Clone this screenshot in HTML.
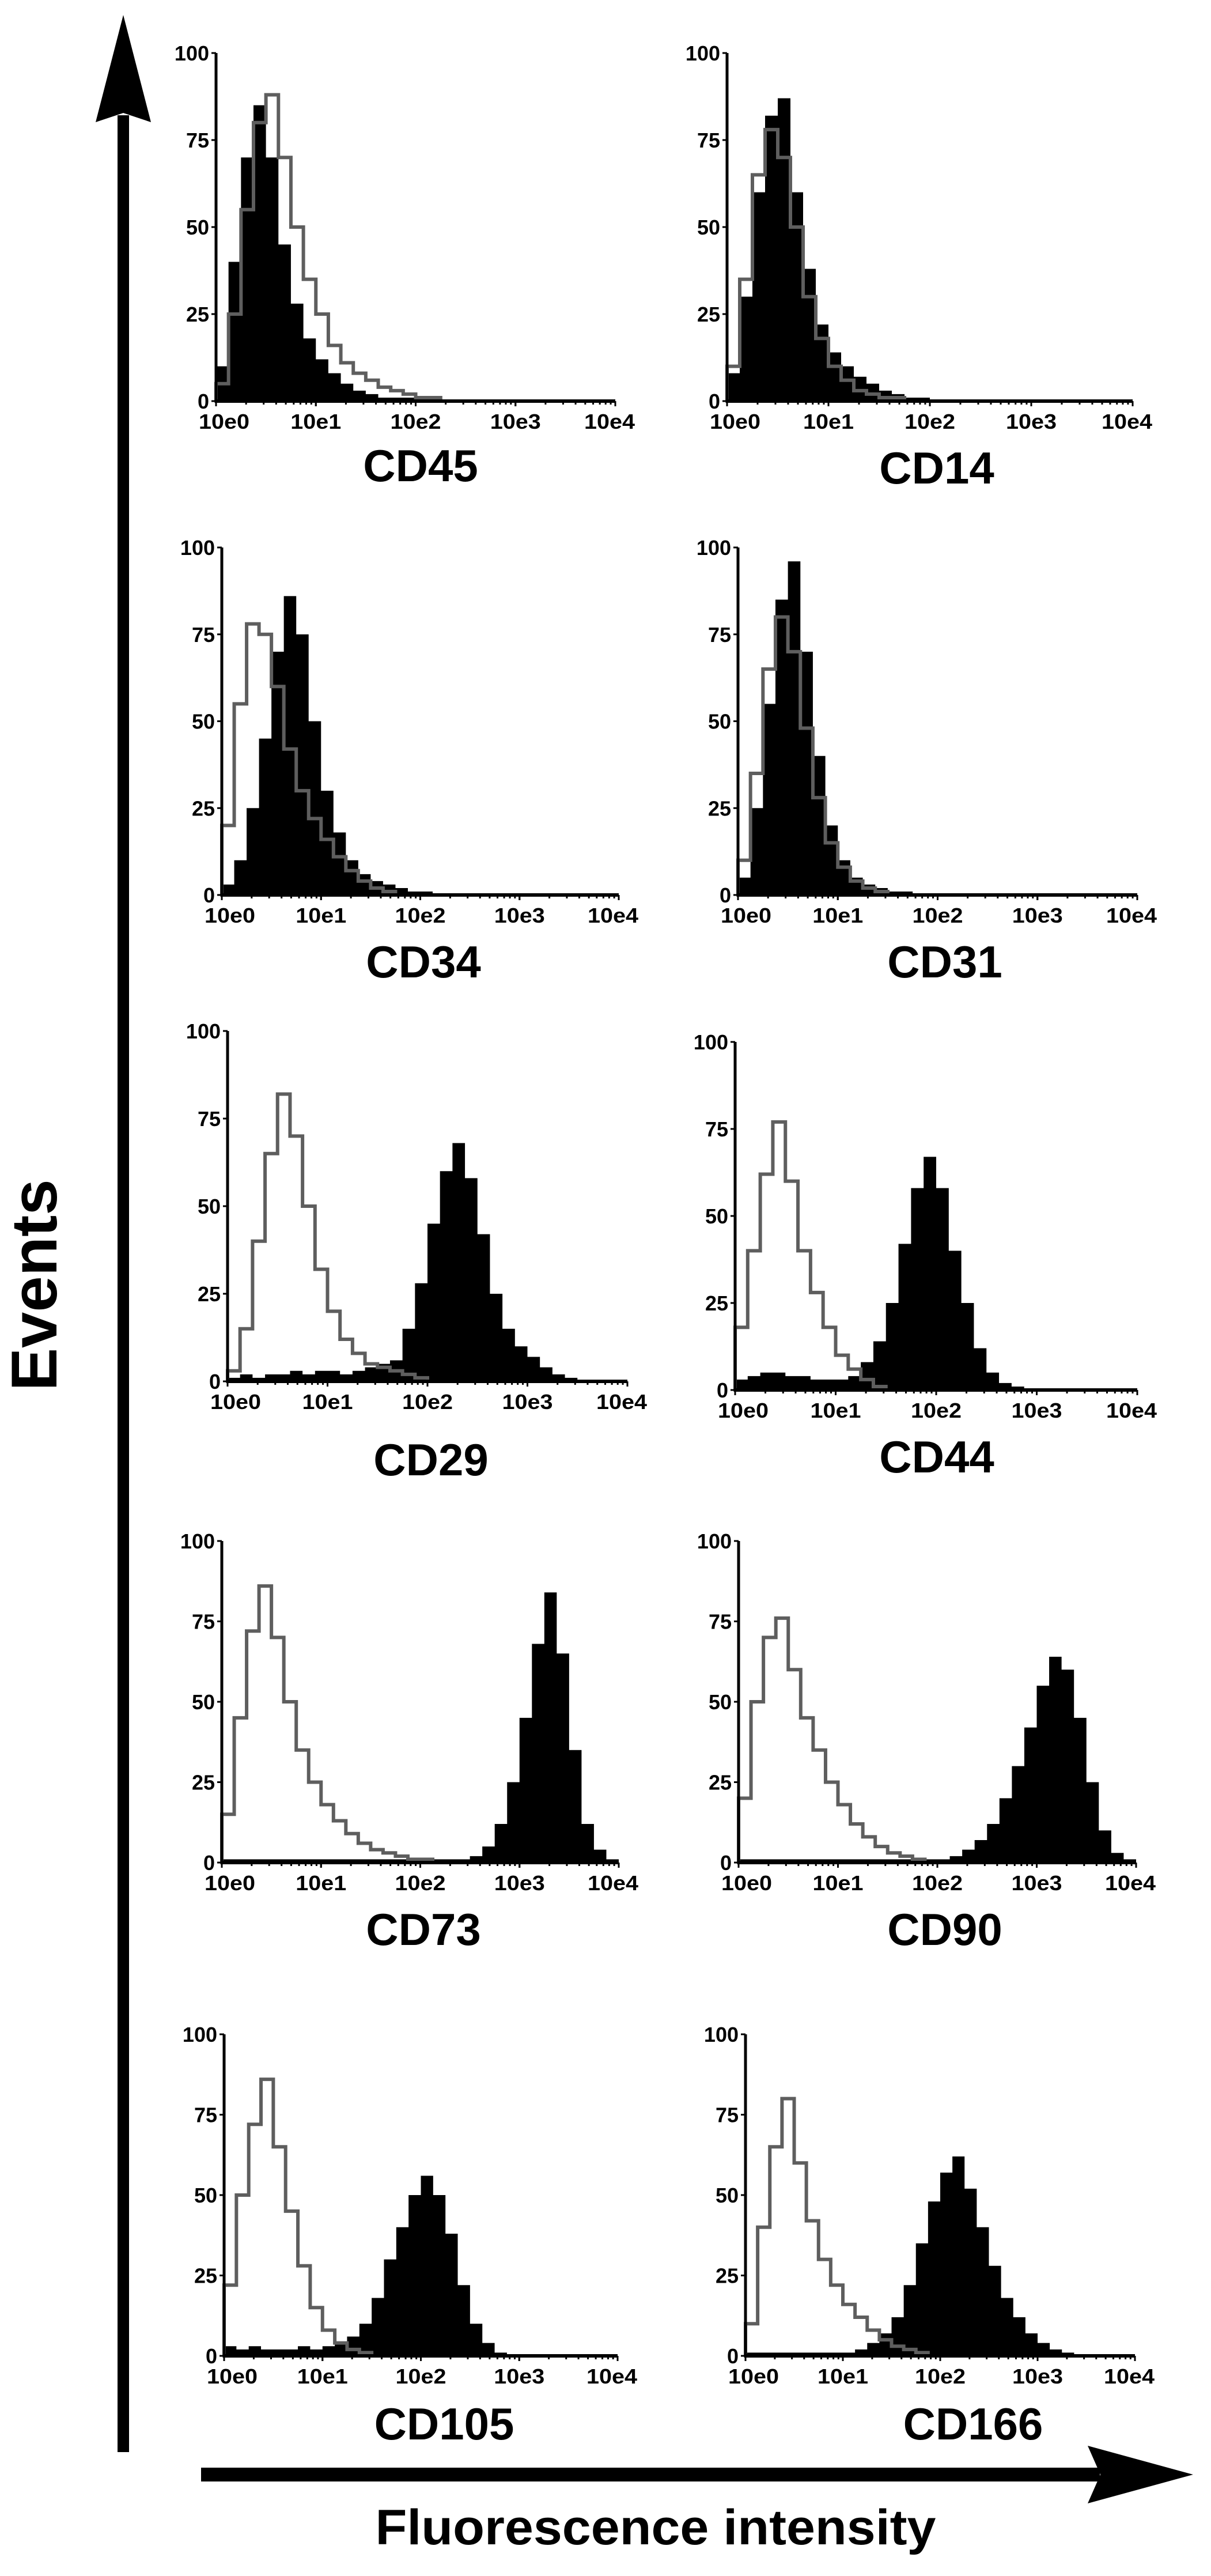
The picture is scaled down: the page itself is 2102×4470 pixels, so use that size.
<!DOCTYPE html>
<html><head><meta charset="utf-8">
<style>
html,body{margin:0;padding:0;background:#fff;}
svg{display:block;}
text{font-family:"Liberation Sans",Arial,sans-serif;font-weight:bold;fill:#000;}
</style></head>
<body>
<svg id="fig" width="2102" height="4470" viewBox="0 0 2102 4470" xmlns="http://www.w3.org/2000/svg">
  <rect x="0" y="0" width="2102" height="4470" fill="#fff"/>
  <g>
    <rect x="204" y="200" width="20" height="4055" fill="#000"/>
    <polygon points="214,26 262,212 214,196 166,212" fill="#000"/>
  </g>
  <text x="0" y="0" font-size="112" text-anchor="middle" transform="translate(98,2230) rotate(-90)">Events</text>
  <g>
    <rect x="349" y="4282" width="1560" height="24" fill="#000"/>
    <polygon points="1888,4244 2071,4294 1888,4344 1910,4294" fill="#000"/>
  </g>
  <text x="1138" y="4415" font-size="86" text-anchor="middle" textLength="973" lengthAdjust="spacingAndGlyphs">Fluorescence intensity</text>
  <g id="panels"></g>
</svg>
<script>
// Histogram data: 8 bins per decade, x from 10e0 to 10e4 (bin i at i/8 decades)
const panelNames = ["CD45","CD14","CD34","CD31","CD29","CD44","CD73","CD90","CD105","CD166"];
const yTicks = [0,25,50,75,100];
const xTickLabels = ["10e0","10e1","10e2","10e3","10e4"];

const stainedCD45 = [10,40,70,85,70,45,28,18,12,8,5,3,2,1,1,1,0,0,0,0,0,0,0,0,0,0,0,0,0,0,0,0];
const controlCD45 = [5,25,55,80,88,70,50,35,25,16,11,8,6,4,3,2,1,1,0,0,0,0,0,0,0,0,0,0,0,0,0,0];
const stainedCD14 = [8,30,60,82,87,60,38,22,14,10,7,5,3,2,1,1,0,0,0,0,0,0,0,0,0,0,0,0,0,0,0,0];
const controlCD14 = [10,35,65,78,70,50,30,18,10,6,3,2,1,1,0,0,0,0,0,0,0,0,0,0,0,0,0,0,0,0,0,0];
const stainedCD34 = [3,10,25,45,70,86,75,50,30,18,10,6,4,3,2,1,1,0,0,0,0,0,0,0,0,0,0,0,0,0,0,0];
const controlCD34 = [20,55,78,75,60,42,30,22,16,11,7,4,2,1,0,0,0,0,0,0,0,0,0,0,0,0,0,0,0,0,0,0];
const stainedCD31 = [5,25,55,85,96,70,40,20,10,5,3,2,1,1,0,0,0,0,0,0,0,0,0,0,0,0,0,0,0,0,0,0];
const controlCD31 = [10,35,65,80,70,48,28,15,8,4,2,1,0,0,0,0,0,0,0,0,0,0,0,0,0,0,0,0,0,0,0,0];
const stainedCD29 = [1,2,1,2,2,3,2,3,3,2,3,4,5,6,15,28,45,60,68,58,42,25,15,10,7,4,2,1,0,0,0,0];
const controlCD29 = [3,15,40,65,82,70,50,32,20,12,8,5,4,3,2,1,0,0,0,0,0,0,0,0,0,0,0,0,0,0,0,0];
const stainedCD44 = [3,4,5,5,4,4,3,3,3,4,8,14,25,42,58,67,58,40,25,12,5,2,1,0,0,0,0,0,0,0,0,0];
const controlCD44 = [18,40,62,77,60,40,28,18,10,6,3,1,0,0,0,0,0,0,0,0,0,0,0,0,0,0,0,0,0,0,0,0];
const stainedCD73 = [1,1,1,1,1,1,1,1,1,1,1,1,1,1,1,1,1,1,1,1,2,5,12,25,45,68,84,65,35,12,4,1];
const controlCD73 = [15,45,72,86,70,50,35,25,18,13,9,6,4,3,2,1,1,0,0,0,0,0,0,0,0,0,0,0,0,0,0,0];
const stainedCD90 = [1,1,1,1,1,1,1,1,1,1,1,1,1,1,1,1,1,2,4,7,12,20,30,42,55,64,60,45,25,10,3,1];
const controlCD90 = [20,50,70,76,60,45,35,25,18,12,8,5,3,2,1,0,0,0,0,0,0,0,0,0,0,0,0,0,0,0,0,0];
const stainedCD105 = [3,2,3,2,2,2,3,2,3,4,6,10,18,30,40,50,56,50,38,22,10,4,1,0,0,0,0,0,0,0,0,0];
const controlCD105 = [22,50,72,86,65,45,28,15,8,4,2,1,0,0,0,0,0,0,0,0,0,0,0,0,0,0,0,0,0,0,0,0];
const stainedCD166 = [1,1,1,1,1,1,1,1,1,2,4,7,12,22,35,48,57,62,52,40,28,18,12,7,4,2,1,0,0,0,0,0];
const controlCD166 = [10,40,65,80,60,42,30,22,16,12,8,5,3,2,1,0,0,0,0,0,0,0,0,0,0,0,0,0,0,0,0,0];

const stainedSeries = [stainedCD45,stainedCD14,stainedCD34,stainedCD31,stainedCD29,stainedCD44,stainedCD73,stainedCD90,stainedCD105,stainedCD166];
const controlSeries = [controlCD45,controlCD14,controlCD34,controlCD31,controlCD29,controlCD44,controlCD73,controlCD90,controlCD105,controlCD166];

// layout: [x0, x1, yTop, yZero]
const layout = [
  [375,1068,92,696],[1262,1966,92,696],
  [385,1074,950,1553],[1281,1974,950,1553],
  [395,1089,1789,2397],[1276,1974,1808,2412],
  [385,1074,2674,3232],[1282,1972,2674,3232],
  [389,1072,3530,4088],[1294,1970,3530,4088]
];
const titleX = [730,1626,735,1640,748,1626,735,1640,771,1689];
const titleOff = [139,143,143,143,163,143,143,143,145,145];

const NS = "http://www.w3.org/2000/svg";
const root = document.getElementById("panels");
function mk(tag, attrs, parent){
  const e = document.createElementNS(NS, tag);
  for (const k in attrs) e.setAttribute(k, attrs[k]);
  parent.appendChild(e);
  return e;
}

panelNames.forEach((name, p) => {
  const [x0,x1,yt,yz] = layout[p];
  const xs = v => x0 + (x1 - x0) * v / 4;
  const ys = v => yz - (yz - yt) * v / 100;
  const g = mk("g", {}, root);
  
  

  const stained = stainedSeries[p];
  const control = controlSeries[p];
  const bw = 1/8;
  let pts = [[xs(0), ys(0)]];
  stained.forEach((v,i) => { pts.push([xs(i*bw), ys(v)]); pts.push([xs((i+1)*bw), ys(v)]); });
  pts.push([xs(stained.length*bw), ys(0)]);
  const fill = mk("polygon", {points: pts.map(a=>a.join(",")).join(" "), fill:"#000"}, g);
  
  
  let cp = [[xs(0), ys(0)]];
  control.forEach((v,i) => { cp.push([xs(i*bw), ys(v)]); cp.push([xs((i+1)*bw), ys(v)]); });
  const line = mk("polyline", {points: cp.map(a=>a.join(",")).join(" "), fill:"none", stroke:"#5e5e5e", "stroke-width":6}, g);
  
  

  const ax = mk("g", {}, g);
  
  
  mk("line", {x1:x0, y1:yt, x2:x0, y2:yz+3, stroke:"#000", "stroke-width":5}, ax);
  mk("line", {x1:x0, y1:yz, x2:x1, y2:yz, stroke:"#000", "stroke-width":6}, ax);
  for (let d=0; d<4; d++) for (let m=1; m<=10; m++) {
    const xx = xs(d + Math.log10(m));
    mk("line", {x1:xx, y1:yz, x2:xx, y2:yz+(m===1||m===10?9:6), stroke:"#000", "stroke-width":3}, ax);
  }
  yTicks.forEach(t => {
    mk("line", {x1:x0-8, y1:ys(t), x2:x0, y2:ys(t), stroke:"#000", "stroke-width":3}, ax);
    const lab = mk("text", {x:x0-12, y:ys(t)+13, "font-size":36, "text-anchor":"end"}, ax);
    
    
    lab.textContent = t;
  });
  xTickLabels.forEach((t,i) => {
    const lab = mk("text", {x:xs(i)+(i===0?14:(i===4?-10:0)), y:yz+48, "font-size":36, "text-anchor":"middle", textLength:88, lengthAdjust:"spacingAndGlyphs"}, ax);
    
    
    lab.textContent = t;
  });
  const title = mk("text", {x:titleX[p], y:yz+titleOff[p], "font-size":78, "text-anchor":"middle"}, g);
  
  
  title.textContent = name;
});
</script>
</body></html>
